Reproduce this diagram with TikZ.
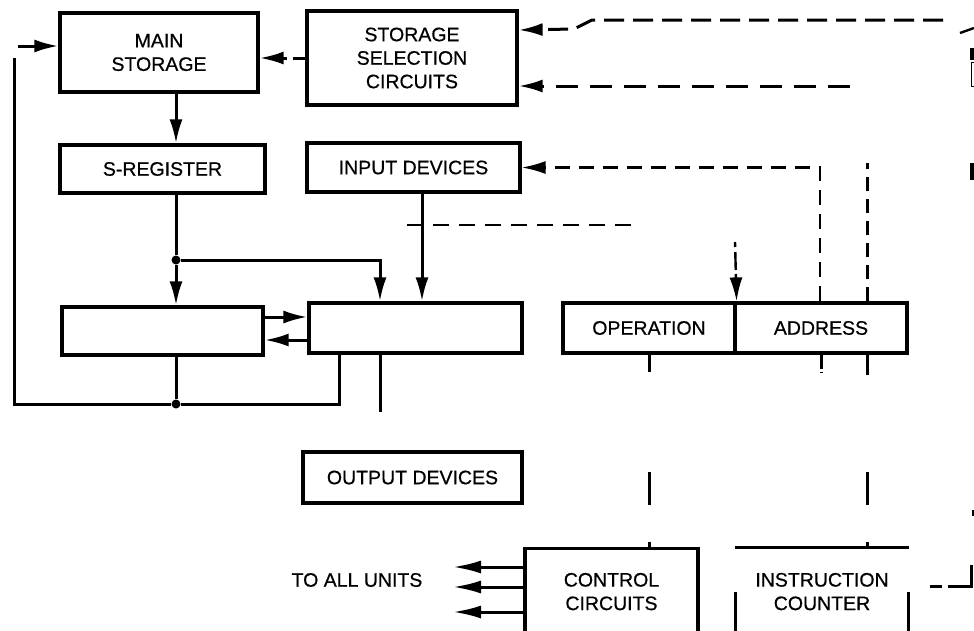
\documentclass[tikz,border=0pt]{standalone}
\usepackage{fontspec}
\setmainfont{Liberation Sans}
\newfontfamily\scanfont{Liberation Sans}[FakeBold=0.6]
\usetikzlibrary{arrows.meta}

\tikzset{
  unit/.style={draw, line width=3.2pt, inner sep=0pt, align=center,
    font=\scanfont\fontsize{19.5}{23.5}\selectfont},
  wire/.style={line width=3pt},
  flow/.style={wire, -{Latex[length=24pt,width=13pt]}},
  ctl/.style={line width=3pt, dash pattern=on 20pt off 9pt},
  ctlflow/.style={ctl, -{Latex[length=24pt,width=13pt]}},
  joint/.style={circle, fill, inner sep=0pt, minimum size=9pt},
}

\begin{document}
\begin{tikzpicture}[x=1pt, y=-1pt]
  \useasboundingbox (0,0) rectangle (974,630);
  \clip (0,0) rectangle (974,630);

  % storage side
  \node[unit, minimum width=198pt, minimum height=79pt] (ms) at (159,52.5) {MAIN\\STORAGE};
  \node[unit, minimum width=210pt, minimum height=94pt] (ssc) at (412,58)
    {STORAGE\\SELECTION\\CIRCUITS};
  \node[unit, minimum width=205pt, minimum height=48pt] (sreg) at (162.5,169) {S-REGISTER};
  \node[unit, minimum width=213pt, minimum height=49pt] (inp) at (413.5,167.5) {INPUT DEVICES};

  % arithmetic
  \node[unit, minimum width=201pt, minimum height=48pt] (acc) at (162.5,331) {};
  \node[unit, minimum width=213pt, minimum height=50pt] (reg) at (415.5,328) {};
  \node[unit, line width=3.8pt, minimum width=219pt, minimum height=51pt] (out) at (412.5,477.5) {OUTPUT DEVICES};

  % instruction register
  \node[unit, minimum width=172pt, minimum height=50pt] (op) at (649,328) {OPERATION};
  \node[unit, minimum width=172pt, minimum height=50pt] (addr) at (821,328) {ADDRESS};

  % control
  \node[unit, minimum width=173pt, minimum height=86pt, anchor=north] (ctrl) at (611.5,547) {CONTROL\\CIRCUITS};
  \node[unit, draw=none, minimum width=170pt, minimum height=86pt, anchor=north] (ic) at (822,547) {INSTRUCTION\\COUNTER};
  \draw[wire] (ic.north west) -- (ic.north east);
  \draw[wire] ([yshift=-45pt]ic.north west) -- (ic.south west);
  \draw[wire] ([yshift=-45pt]ic.north east) -- (ic.south east);
  \node[font=\scanfont\fontsize{19.5}{23.5}\selectfont] (all) at (357,580) {TO ALL UNITS};

  % junctions and free ends
  \node[joint] (jt) at (176,260) {};
  \node[joint] (jb) at (176,404) {};
  \coordinate (lpTop) at (14,58);
  \coordinate (lpIn) at (18,46);
  \coordinate (outTop) at (380,412);
  \coordinate (feedA) at (943,20);
  \coordinate (feedB) at (850,86);
  \coordinate (feedC) at (867,163);
  \coordinate (feedD) at (971,565);
  \coordinate (crossL) at (407,225);
  \coordinate (crossR) at (633,225);
  \coordinate (opIn) at (735,242);
  \coordinate (stub) at (821,372);

  % data flow
  \draw[flow] (ms.south -| jt) -- (sreg.north -| jt);
  \draw[wire] (sreg.south -| jt) -- (jt);
  \draw[flow] (jt) -- (jt |- acc.north);
  \draw[flow] (jt) -| ([xshift=-35.5pt]reg.north);
  \draw[flow] ([xshift=8.5pt]inp.south) -- ([xshift=6.5pt]reg.north);
  \draw[flow] ([yshift=14pt]acc.east) -- ([yshift=14pt]acc.east -| reg.west);
  \draw[flow] ([yshift=-9pt]acc.east -| reg.west) -- ([yshift=-9pt]acc.east);
  \draw[wire] (jb |- acc.south) -- (jb);
  \draw[wire] ([xshift=-76.5pt]reg.south) |- (jb);
  \draw[wire] (jb) -| (lpTop);
  \draw[flow] (lpIn) -- (lpIn -| ms.west);
  \draw[wire] ([xshift=-35.5pt]reg.south) -- (outTop);
  \foreach \y [count=\i] in {567,587,612} {
    \coordinate (tip\i) at (453,\y);
    \draw[flow, -{Latex[length=28pt,width=13pt]}] (ctrl.west |- tip\i) -- (tip\i);
  }

  % control lines
  \draw[ctlflow, dash pattern=on 12pt off 6pt] (ssc.west) -- (ssc.west -| ms.east);
  \draw[ctlflow] (feedA) -- (592,20) -- (574,29) -- ([yshift=28pt]ssc.east);
  \draw[ctlflow, dash pattern=on 22pt off 12pt] (feedB) -- (feedB -| ssc.east);
  \draw[ctlflow, line width=2.4pt, dash pattern=on 15pt off 9pt] ([xshift=-1pt]addr.north) |- (inp.east);
  \draw[ctl, dash pattern=on 14pt off 8pt] (addr.north -| feedC) -- (feedC);
  \draw[ctl, line width=2.4pt, dash pattern=on 16pt off 10pt] (crossL) -- (crossR);
  \draw[ctlflow, line width=2.4pt, dash pattern=on 5pt off 5pt on 18pt off 4pt] (opIn) -- (op.north east);
  \draw[ctl, dash pattern=on 14pt off 3pt on 2pt off 30pt] (addr.south) -- (stub);
  \draw[ctl, dash pattern=on 17pt off 100pt on 33pt off 37pt on 10pt] (op.south) -- (op.south |- ctrl.north);
  \draw[ctl, dash pattern=on 20pt off 97pt on 33pt off 37pt on 10pt] (addr.south -| feedC) -- (feedC |- ic.north);
  \draw[ctl, dash pattern=on 12pt off 6pt on 60pt] ([shift={(21pt,5pt)}]ic.east) -| (feedD);

  % cut-off marks at the right edge
  \draw[line width=2.4pt] (960,33) -- (974,28);
  \fill (970,48) rectangle (974,60);
  \draw[line width=1pt] (971,62) rectangle (976,86);
  \fill (970,163) rectangle (974,180);
  \fill (972,510) rectangle (974,516);
\end{tikzpicture}
\end{document}
